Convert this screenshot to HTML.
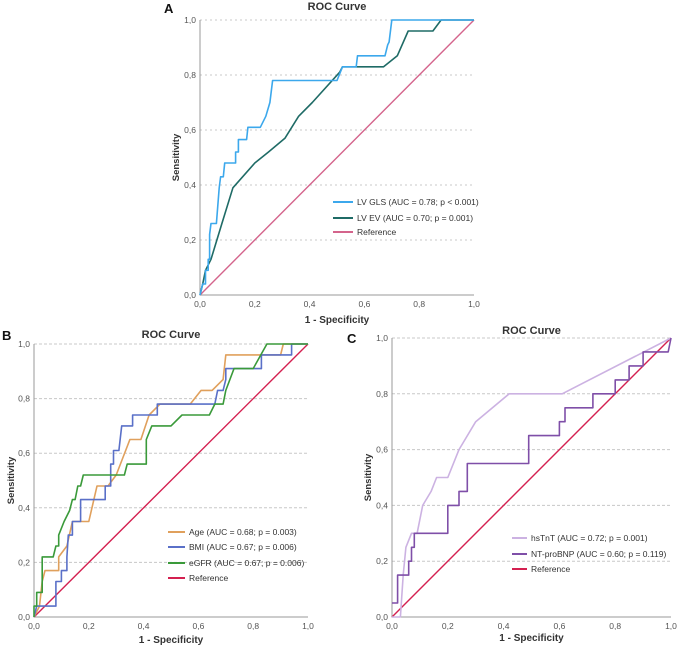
<!DOCTYPE html>
<html><head><meta charset="utf-8"><style>
html,body{margin:0;padding:0;background:#fff;}
svg{display:block;font-family:"Liberation Sans",sans-serif;}
</style></head><body>
<svg id="chart" width="677" height="647" viewBox="0 0 677 647"></svg>
<script>
// ---- Panel A data ----
const aGlsX=[0,0.01,0.02,0.02,0.03,0.03,0.035,0.035,0.04,0.06,0.07,0.075,0.085,0.09,0.13,0.13,0.14,0.14,0.17,0.175,0.22,0.24,0.255,0.265,0.5,0.52,0.57,0.575,0.675,0.685,0.69,0.7,1];
const aGlsY=[0,0.04,0.04,0.09,0.09,0.13,0.13,0.22,0.26,0.26,0.39,0.43,0.43,0.48,0.48,0.52,0.52,0.565,0.565,0.61,0.61,0.65,0.7,0.78,0.78,0.83,0.83,0.87,0.87,0.91,0.92,1,1];
const aEvX=[0,0.01,0.02,0.04,0.08,0.12,0.2,0.25,0.31,0.36,0.41,0.51,0.52,0.67,0.72,0.76,0.85,0.88,1];
const aEvY=[0,0.04,0.09,0.13,0.26,0.39,0.48,0.52,0.57,0.65,0.70,0.81,0.83,0.83,0.87,0.96,0.96,1,1];
// ---- Panel B data ----
const bAgeX=[0,0.02,0.03,0.04,0.09,0.09,0.12,0.14,0.2,0.23,0.27,0.3,0.35,0.39,0.42,0.46,0.57,0.61,0.65,0.69,0.7,0.9,0.91,1];
const bAgeY=[0,0.04,0.13,0.17,0.17,0.22,0.26,0.35,0.35,0.48,0.48,0.52,0.65,0.65,0.74,0.78,0.78,0.83,0.83,0.87,0.96,0.96,1,1];
const bBmiX=[0,0.01,0.08,0.08,0.1,0.1,0.12,0.12,0.125,0.14,0.14,0.17,0.17,0.26,0.26,0.28,0.28,0.29,0.29,0.31,0.32,0.36,0.36,0.45,0.45,0.66,0.67,0.69,0.7,0.7,0.83,0.83,0.94,0.94,1];
const bBmiY=[0,0.04,0.04,0.13,0.13,0.17,0.17,0.22,0.3,0.3,0.35,0.35,0.43,0.43,0.48,0.48,0.56,0.56,0.61,0.61,0.7,0.7,0.74,0.74,0.78,0.78,0.83,0.83,0.87,0.91,0.91,0.96,0.96,1,1];
const bEgfrX=[0,0,0.01,0.01,0.03,0.03,0.07,0.08,0.09,0.09,0.11,0.13,0.14,0.15,0.16,0.17,0.18,0.33,0.34,0.41,0.41,0.43,0.5,0.54,0.64,0.66,0.69,0.7,0.73,0.8,0.85,1];
const bEgfrY=[0,0.04,0.04,0.09,0.09,0.22,0.22,0.26,0.26,0.3,0.35,0.39,0.43,0.43,0.48,0.48,0.52,0.52,0.56,0.56,0.65,0.7,0.7,0.74,0.74,0.78,0.78,0.83,0.91,0.91,1,1];
// ---- Panel C data ----
const cTntX=[0,0.03,0.04,0.05,0.07,0.09,0.11,0.14,0.16,0.2,0.24,0.3,0.42,0.61,1];
const cTntY=[0,0,0.15,0.25,0.3,0.3,0.4,0.45,0.5,0.5,0.6,0.7,0.8,0.8,1];
const cBnpX=[0,0.02,0.02,0.06,0.06,0.07,0.07,0.08,0.08,0.2,0.2,0.2,0.24,0.24,0.27,0.27,0.49,0.49,0.6,0.6,0.62,0.62,0.72,0.72,0.8,0.8,0.85,0.85,0.9,0.9,0.99,1];
const cBnpY=[0.05,0.05,0.15,0.15,0.2,0.2,0.25,0.25,0.3,0.3,0.35,0.4,0.4,0.45,0.45,0.55,0.55,0.65,0.65,0.7,0.7,0.75,0.75,0.8,0.8,0.85,0.85,0.9,0.9,0.95,0.95,1];
const tickLabels=["0,0","0,2","0,4","0,6","0,8","1,0"];
const tickVals=[0,0.2,0.4,0.6,0.8,1];

const svg=document.getElementById('chart');
const NS='http://www.w3.org/2000/svg';
function mk(tag,attrs,parent){const e=document.createElementNS(NS,tag);for(const k in attrs)e.setAttribute(k,attrs[k]);(parent||svg).appendChild(e);return e;}

function panel(p){
  const g=mk('g',{});
  
  
  const sx=v=>p.x0+v*(p.x1-p.x0), sy=v=>p.y0-v*(p.y0-p.y1);
  tickVals.forEach((v,i)=>{
    if(v>0){const gl=mk('line',{x1:sx(0),x2:sx(1),y1:sy(v),y2:sy(v),stroke:'#c8c8c8','stroke-width':1,'stroke-dasharray':p.dash},g);
      }
    const yl=mk('text',{x:sx(0)-4,y:sy(v)+3,'font-size':8.5,fill:'#555','text-anchor':'end'},g);yl.textContent=tickLabels[i];
    
    const xl=mk('text',{x:sx(v),y:p.y0+12,'font-size':8.5,fill:'#555','text-anchor':'middle'},g);xl.textContent=tickLabels[i];
    
  });
  const ax=mk('path',{d:`M${sx(0)},${sy(1)}V${sy(0)}H${sx(1)}`,fill:'none',stroke:'#999','stroke-width':1},g);
  
  const ref=mk('line',{x1:sx(0),y1:sy(0),x2:sx(1),y2:sy(1),stroke:p.refColor,'stroke-width':1.4},g);
  
  p.series.forEach(s=>{
    const d=s.x.map((v,i)=>(i?'L':'M')+sx(v).toFixed(1)+','+sy(s.y[i]).toFixed(1)).join('');
    const l=mk('path',{d:d,fill:'none',stroke:s.color,'stroke-width':1.6,'stroke-linejoin':'round'},g);
    
  });
  const t=mk('text',{x:(sx(0)+sx(1))/2,y:p.titleY,'font-size':11,'font-weight':'bold',fill:'#333','text-anchor':'middle'},g);t.textContent='ROC Curve';
  
  const L=mk('text',{x:p.lx,y:p.ly,'font-size':13,'font-weight':'bold',fill:'#111'},g);L.textContent=p.id;
  
  const xt=mk('text',{x:(sx(0)+sx(1))/2,y:p.xtY,'font-size':10,'font-weight':'bold',fill:'#333','text-anchor':'middle'},g);xt.textContent='1 - Specificity';
  
  const cy=(sy(0)+sy(1))/2;
  const yt=mk('text',{x:p.ytX,y:cy,'font-size':9.5,'font-weight':'bold',fill:'#333','text-anchor':'middle',transform:`rotate(-90 ${p.ytX} ${cy})`},g);yt.textContent='Sensitivity';
  
  const leg=mk('g',{},g);
  p.legend.forEach((e,i)=>{
    const y=p.legY[i];
    const ln=mk('line',{x1:p.legX,x2:p.legX+p.legW,y1:y,y2:y,stroke:e.c,'stroke-width':2},leg);
    
    const tx=mk('text',{x:p.legX+p.legW+4,y:y+3,'font-size':8.5,fill:'#333'},leg);tx.textContent=e.t;
    
  });
}
panel({id:'A',x0:200,x1:474,y0:295,y1:20,dash:'2,3',refColor:'#d4648c',titleY:10,lx:164,ly:13,xtY:323,ytX:179,
  series:[{key:'lv-ev',x:aEvX,y:aEvY,color:'#1f6b66'},{key:'lv-gls',x:aGlsX,y:aGlsY,color:'#3ca8ec'}],
  legX:333,legW:20,legY:[202,218,232],
  legend:[{t:'LV GLS (AUC = 0.78; p < 0.001)',c:'#3ca8ec'},{t:'LV EV (AUC = 0.70; p = 0.001)',c:'#1f6b66'},{t:'Reference',c:'#d4648c'}]});
panel({id:'B',x0:34,x1:308,y0:617,y1:344,dash:'3,2',refColor:'#d42050',titleY:338,lx:2,ly:340,xtY:643,ytX:14,
  series:[{key:'age',x:bAgeX,y:bAgeY,color:'#e0a05c'},{key:'bmi',x:bBmiX,y:bBmiY,color:'#5a70c8'},{key:'egfr',x:bEgfrX,y:bEgfrY,color:'#3a9a3a'}],
  legX:168,legW:17,legY:[532,547,563,578],
  legend:[{t:'Age (AUC = 0.68; p = 0.003)',c:'#e0a05c'},{t:'BMI (AUC = 0.67; p = 0.006)',c:'#5a70c8'},{t:'eGFR (AUC = 0.67; p = 0.006)',c:'#3a9a3a'},{t:'Reference',c:'#d42050'}]});
panel({id:'C',x0:392,x1:671,y0:617,y1:338,dash:'3,2',refColor:'#d42050',titleY:334,lx:347,ly:343,xtY:641,ytX:371,
  series:[{key:'hstnt',x:cTntX,y:cTntY,color:'#ccb2e2'},{key:'nt-probnp',x:cBnpX,y:cBnpY,color:'#7f4fa8'}],
  legX:512,legW:15,legY:[538,554,569],
  legend:[{t:'hsTnT (AUC = 0.72; p = 0.001)',c:'#ccb2e2'},{t:'NT-proBNP (AUC = 0.60; p = 0.119)',c:'#7f4fa8'},{t:'Reference',c:'#d42050'}]});
</script>
</body></html>
